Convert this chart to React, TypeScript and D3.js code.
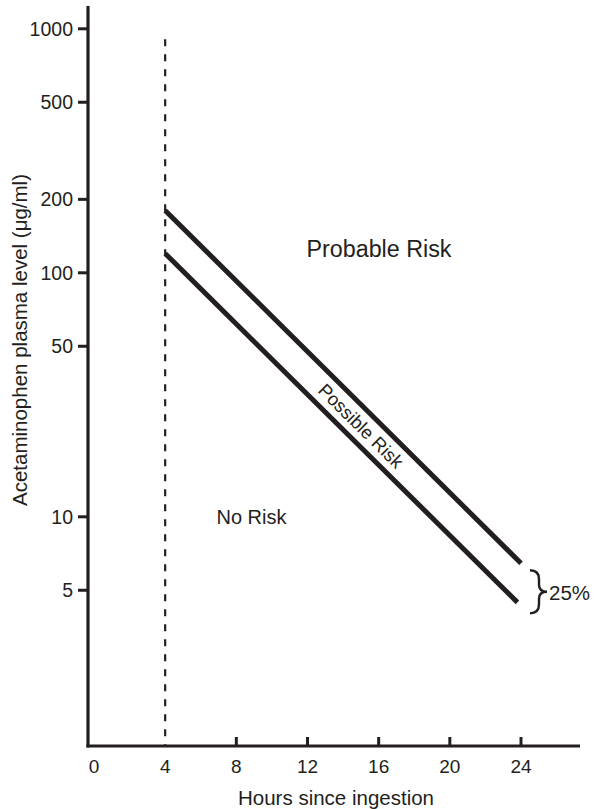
import React from "react";
import * as d3 from "d3";

const W = 595;
const H = 809;

const xTicks = [0, 4, 8, 12, 16, 20, 24];
const xTickMarks = [8, 12, 16, 20, 24];
const yTicks = [1000, 500, 200, 100, 50, 10, 5];

const upperLine = [
  { h: 4, v: 180 },
  { h: 24, v: 6.45 },
];
const lowerLine = [
  { h: 4, v: 120 },
  { h: 23.8, v: 4.46 },
];
const cutoffHour = 4;
const cutoffTop = 905;

const xLabel = "Hours since ingestion";
const yLabel = "Acetaminophen plasma level (μg/ml)";
const zones = { probable: "Probable Risk", possible: "Possible Risk", none: "No Risk" };
const bandLabel = "25%";

const INK = "#231f20";
const FONT = "'Liberation Sans', Arial, Helvetica, sans-serif";

export default function App() {
  const x = d3.scaleLinear().domain([0, 24]).range([94, 521]);
  const y = d3.scaleLog().domain([1.15, 1240]).range([746, 6]);
  const axisX = 88;
  const axisY = 746;

  const line = d3
    .line<{ h: number; v: number }>()
    .x((d) => x(d.h))
    .y((d) => y(d.v));

  const dx = x(upperLine[1].h) - x(upperLine[0].h);
  const dy = y(upperLine[1].v) - y(upperLine[0].v);
  const angle = (Math.atan2(dy, dx) * 180) / Math.PI;

  const labelH = 15.0;
  const interp = (ln: { h: number; v: number }[], h: number) => {
    const t = (h - ln[0].h) / (ln[1].h - ln[0].h);
    return Math.exp(Math.log(ln[0].v) + t * (Math.log(ln[1].v) - Math.log(ln[0].v)));
  };
  const midV = Math.sqrt(interp(upperLine, labelH) * interp(lowerLine, labelH));
  const px = x(labelH);
  const py = y(midV);

  const bx0 = x(24) + 9;
  const bTop = y(upperLine[1].v) + 7;
  const bBot = y(lowerLine[1].v) + 11;
  const bMid = (bTop + bBot) / 2;
  const bx1 = bx0 + 9;
  const bx2 = bx0 + 17;
  const brace = `M${bx0},${bTop} Q${bx1},${bTop} ${bx1},${bTop + 9} L${bx1},${bMid - 7} Q${bx1},${bMid} ${bx2},${bMid} Q${bx1},${bMid} ${bx1},${bMid + 7} L${bx1},${bBot - 9} Q${bx1},${bBot} ${bx0},${bBot}`;

  return (
    <svg
      width={W}
      height={H}
      style={{ position: "absolute", left: 0, top: 0, background: "#fff" }}
      fontFamily={FONT}
    >
      <line
        x1={x(cutoffHour)}
        x2={x(cutoffHour)}
        y1={y(cutoffTop)}
        y2={axisY}
        stroke={INK}
        strokeWidth={2.2}
        strokeDasharray="7,8"
      />

      <path d={line(upperLine) || ""} fill="none" stroke={INK} strokeWidth={5} />
      <path d={line(lowerLine) || ""} fill="none" stroke={INK} strokeWidth={5} />

      <line x1={axisX} x2={axisX} y1={6} y2={axisY + 1.5} stroke={INK} strokeWidth={3.2} />
      {yTicks.map((t) => (
        <g key={t}>
          <line x1={axisX - 10} x2={axisX} y1={y(t)} y2={y(t)} stroke={INK} strokeWidth={3} />
          <text x={73} y={y(t)} dy="0.36em" textAnchor="end" fontSize={19.5} fill={INK}>
            {t}
          </text>
        </g>
      ))}

      <line x1={axisX - 1.6} x2={580} y1={axisY} y2={axisY} stroke={INK} strokeWidth={3.2} />
      {xTickMarks.map((t) => (
        <line key={t} x1={x(t)} x2={x(t)} y1={axisY - 9} y2={axisY} stroke={INK} strokeWidth={3} />
      ))}
      {xTicks.map((t) => (
        <text key={t} x={x(t)} y={773} textAnchor="middle" fontSize={19} fill={INK}>
          {t}
        </text>
      ))}

      <text x={336} y={805} textAnchor="middle" fontSize={20.5} fill={INK}>
        {xLabel}
      </text>
      <text transform={`translate(27,340) rotate(-90)`} textAnchor="middle" fontSize={20.5} fill={INK}>
        {yLabel}
      </text>

      <text x={379} y={257} textAnchor="middle" fontSize={23.3} fill={INK}>
        {zones.probable}
      </text>
      <text x={251.5} y={524} textAnchor="middle" fontSize={20} fill={INK}>
        {zones.none}
      </text>
      <text
        transform={`translate(${px},${py}) rotate(${angle})`}
        textAnchor="middle"
        dy="0.35em"
        fontSize={18.5}
        fill={INK}
      >
        {zones.possible}
      </text>

      <path d={brace} fill="none" stroke={INK} strokeWidth={2.4} />
      <text x={bx2 + 2} y={bMid + 8} fontSize={20.5} fill={INK}>
        {bandLabel}
      </text>
    </svg>
  );
}
